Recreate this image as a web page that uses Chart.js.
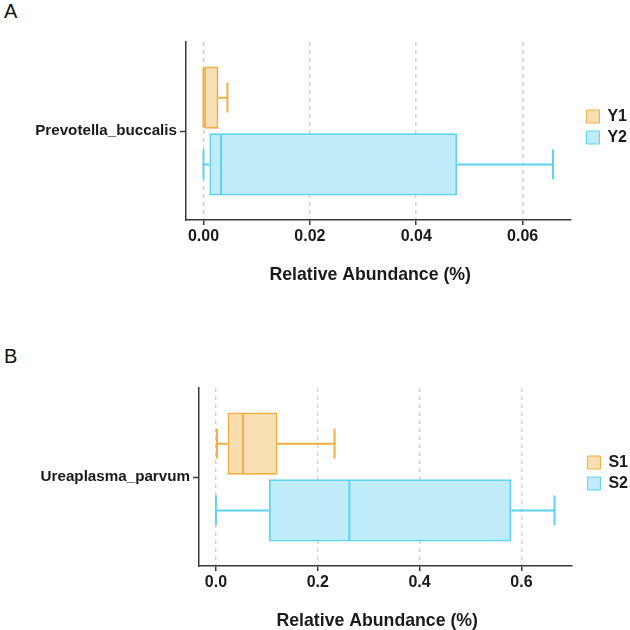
<!DOCTYPE html>
<html>
<head>
<meta charset="utf-8">
<script src="https://cdn.jsdelivr.net/npm/chart.js@4.4.1/dist/chart.umd.min.js"></script>
<style>
  body { margin: 0; background: #fff; width: 630px; height: 630px; position: relative; overflow: hidden; font-family: "Liberation Sans", Arial, sans-serif; }
  .panel-label { position: absolute; left: 4px; font-size: 20px; line-height: 23px; color: #111; }
  .wrap { position: absolute; left: 0; width: 630px; }
</style>
</head>
<body>
<div class="panel-label" style="top:0px">A</div>
<div class="wrap" style="top:0px"><canvas id="chartA" width="630" height="300"></canvas></div>
<div class="panel-label" style="top:345px">B</div>
<div class="wrap" style="top:346px"><canvas id="chartB" width="630" height="284"></canvas></div>
<script>
const xTitle = 'Relative Abundance (%)';

// panel A
const taxonA = ['Prevotella_buccalis'];
const groupsA = ['Y1', 'Y2'];
const minA = [0.0000, 0.0000];
const q1A = [0.0000, 0.0011];
const medianA = [0.0000, 0.0033];
const q3A = [0.0028, 0.0477];
const maxA = [0.0045, 0.0657];
const tickValuesA = [0, 0.02, 0.04, 0.06];
const tickLabelsA = ['0.00', '0.02', '0.04', '0.06'];

// panel B
const taxonB = ['Ureaplasma_parvum'];
const groupsB = ['S1', 'S2'];
const minB = [0.002, 0.000];
const q1B = [0.023, 0.104];
const medianB = [0.053, 0.262];
const q3B = [0.121, 0.580];
const maxB = [0.233, 0.665];
const tickValuesB = [0, 0.2, 0.4, 0.6];
const tickLabelsB = ['0.0', '0.2', '0.4', '0.6'];

const fillColors = ['#F7DFB3', '#C0ECF9'];
const lineColors = ['#F4AD3F', '#5CD2F5'];
const axisColor = '#3a3a3a';
const textColor = '#1a1a1a';
const fontFamily = '"Liberation Sans", Arial, sans-serif';

Chart.defaults.font.family = fontFamily;

// whiskers, medians and the x title, drawn through the chart's own scales
function boxPlugin(stats) {
    return {
        id: 'boxExtras',
        afterLayout(chart) {
            // push the legend a bit away from the panel, like ggplot does
            const lg = chart.legend;
            const dx = chart.chartArea.right + 11 - lg.left;
            lg.left += dx;
            lg.right += dx;
            lg.top -= 4;
            lg.bottom -= 4;
        },
        afterDatasetsDraw(chart) {
            const ctx = chart.ctx;
            const xs = chart.scales.x;
            const px = v => xs.getPixelForValue(v);
            chart.data.datasets.forEach((ds, i) => {
                const bar = chart.getDatasetMeta(i).data[0];
                const yc = bar.y;
                const h = bar.height;
                const cap = h * 0.48;
                ctx.save();
                ctx.strokeStyle = ds.borderColor;
                ctx.lineWidth = 2;
                ctx.beginPath();
                // median
                ctx.moveTo(px(stats.median[i]), yc - h / 2 + 1);
                ctx.lineTo(px(stats.median[i]), yc + h / 2 - 1);
                // lower whisker
                ctx.moveTo(px(stats.min[i]), yc);
                ctx.lineTo(px(stats.q1[i]), yc);
                ctx.moveTo(px(stats.min[i]), yc - cap / 2);
                ctx.lineTo(px(stats.min[i]), yc + cap / 2);
                // upper whisker
                ctx.moveTo(px(stats.q3[i]), yc);
                ctx.lineTo(px(stats.max[i]), yc);
                ctx.moveTo(px(stats.max[i]), yc - cap / 2);
                ctx.lineTo(px(stats.max[i]), yc + cap / 2);
                ctx.stroke();
                ctx.restore();
            });
        },
        afterDraw(chart) {
            const ctx = chart.ctx;
            const a = chart.chartArea;
            ctx.save();
            ctx.font = 'bold 17.7px ' + fontFamily;
            ctx.fillStyle = textColor;
            ctx.textAlign = 'center';
            ctx.textBaseline = 'middle';
            ctx.fillText(xTitle, (a.left + a.right) / 2 - 8, a.bottom + 55);
            ctx.restore();
        }
    };
}

function makeChart(canvasId, p) {
    const range = Math.max(...p.max) - Math.min(...p.min);
    const xMin = Math.min(...p.min) - range * 0.05;
    const xMax = Math.max(...p.max) + range * 0.05;
    const canvasHeight = document.getElementById(canvasId).height;

    return new Chart(document.getElementById(canvasId), {
        type: 'bar',
        data: {
            labels: p.taxon,
            datasets: p.groups.map((g, i) => ({
                label: g,
                data: [[p.q1[i], p.q3[i]]],
                backgroundColor: fillColors[i],
                borderColor: lineColors[i],
                borderWidth: 2,
                borderSkipped: false,
                categoryPercentage: 0.75,
                barPercentage: 0.93
            }))
        },
        options: {
            indexAxis: 'y',
            responsive: false,
            animation: false,
            events: [],
            layout: { padding: { top: 42, right: p.padRight, bottom: 0, left: 0 } },
            scales: {
                x: {
                    type: 'linear',
                    min: xMin,
                    max: xMax,
                    afterBuildTicks: s => { s.ticks = p.tickValues.map(v => ({ value: v })); },
                    afterFit: s => { s.height = canvasHeight - 42 - 178; },
                    ticks: {
                        callback: (v, i) => p.tickLabels[i],
                        font: { size: 16, weight: 'bold' },
                        color: textColor,
                        padding: 2,
                        maxRotation: 0,
                        autoSkip: false
                    },
                    grid: {
                        color: '#d2d2d2',
                        lineWidth: 1.5,
                        drawTicks: true,
                        tickLength: 5,
                        tickColor: axisColor,
                        tickWidth: 1.5,
                        tickBorderDash: []
                    },
                    border: { display: true, color: axisColor, width: 1.5, dash: [4, 4] }
                },
                y: {
                    type: 'category',
                    offset: true,
                    afterFit: s => { s.width = p.axisLeft; },
                    ticks: {
                        font: { size: 15.2, weight: 'bold' },
                        color: textColor,
                        padding: 3
                    },
                    grid: {
                        offset: false,
                        drawOnChartArea: false,
                        drawTicks: true,
                        tickLength: 6,
                        tickColor: axisColor,
                        tickWidth: 1.5
                    },
                    border: { display: true, color: axisColor, width: 1.5 }
                }
            },
            plugins: {
                tooltip: { enabled: false },
                legend: {
                    position: 'right',
                    fullSize: false,
                    labels: {
                        boxWidth: 13,
                        boxHeight: 13,
                        padding: 5,
                        color: textColor,
                        font: { size: 16, weight: 'bold' },
                        generateLabels: chart => chart.data.datasets.map((ds, i) => ({
                            text: ds.label,
                            fillStyle: ds.backgroundColor,
                            strokeStyle: ds.borderColor,
                            lineWidth: 1,
                            fontColor: textColor,
                            hidden: false,
                            datasetIndex: i
                        }))
                    }
                }
            }
        },
        plugins: [boxPlugin(p)]
    });
}

makeChart('chartA', {
    taxon: taxonA, groups: groupsA,
    min: minA, q1: q1A, median: medianA, q3: q3A, max: maxA,
    tickValues: tickValuesA, tickLabels: tickLabelsA,
    axisLeft: 186, padRight: 4
});

makeChart('chartB', {
    taxon: taxonB, groups: groupsB,
    min: minB, q1: q1B, median: medianB, q3: q3B, max: maxB,
    tickValues: tickValuesB, tickLabels: tickLabelsB,
    axisLeft: 199, padRight: 3
});
</script>
</body>
</html>
